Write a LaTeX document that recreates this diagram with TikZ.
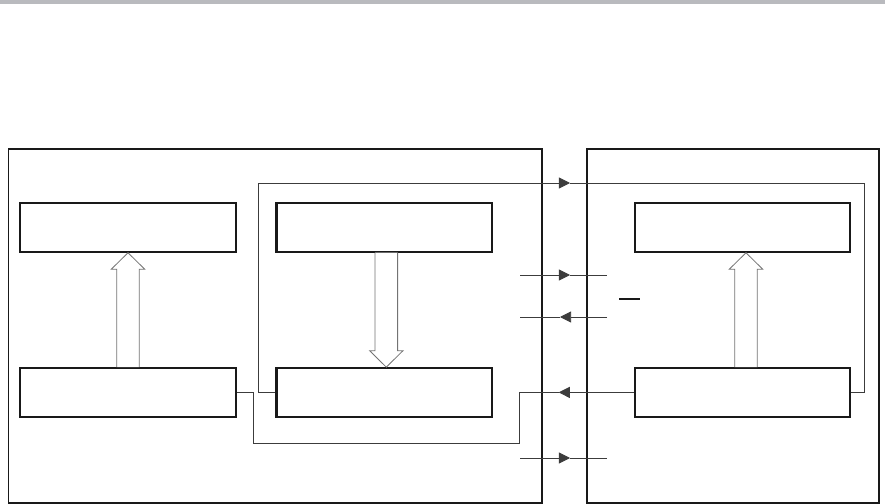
\documentclass[tikz,border=0pt]{standalone}
\usepackage{tikz}
\usetikzlibrary{positioning,arrows.meta,calc}
\definecolor{bandgray}{RGB}{185,186,190}
\definecolor{wiregray}{RGB}{60,60,60}
\newcommand{\fatarrow}[3]{%
  \draw[hollow] ($(#1)+(-11.3,0)$) -- ($(#2)+(-11.3,#3*16.5)$) -- ($(#2)+(-16.7,#3*16.5)$)
    -- (#2) -- ($(#2)+(16.7,#3*16.5)$) -- ($(#2)+(11.3,#3*16.5)$) -- ($(#1)+(11.3,0)$);}

\begin{document}
\begin{tikzpicture}[x=0.03cm,y=-0.03cm,
    block/.style={rectangle,draw=black!90,line width=1.8pt,minimum width=6.465cm,
                  minimum height=1.45cm,inner sep=0pt},
    frame/.style={rectangle,draw=black!90,line width=1.4pt,minimum height=10.62cm,inner sep=0pt},
    wire/.style={draw=wiregray,line width=0.75pt},
    tip/.style={wire,-{Triangle[length=9.5pt,width=9.5pt]}},
    hollow/.style={draw=black!55,line width=0.7pt,fill=white}
]
\useasboundingbox (0,0) rectangle (885,504);
\fill[bandgray] (0,0) rectangle (885,3.5);

\node[frame,minimum width=16.005cm] (hostframe) at (275.25,326) {};
\node[frame,minimum width=8.76cm]   (devframe)  at (733,326) {};

\node[block] (lefttop)  at (128,227.5) {};
\node[block] (leftbot)  at (128,392.4) {};
\node[block] (midtop)   at (384.3,227.5) {};
\node[block] (midbot)   at (384.3,392.4) {};
\node[block] (righttop) at (742.5,227.5) {};
\node[block] (rightbot) at (742.5,392.4) {};

% wide arrows
\coordinate (midshaft) at ($(midtop.south)+(2,0)$);
\coordinate (midhead)  at ($(midbot.north)+(2,0)$);
\coordinate (rightshaft) at ($(rightbot.north)+(3.5,0)$);
\coordinate (righthead)  at ($(righttop.south)+(3.5,0)$);
\fatarrow{leftbot.north}{lefttop.south}{1}
\fatarrow{midshaft}{midhead}{-1}
\fatarrow{rightshaft}{righthead}{1}

% loop over the top
\coordinate (looptip) at (570,183);
\draw[tip] (midbot.west) -- ++(-17,0) |- (looptip);
\draw[wire] (looptip) -| ($(rightbot.east)+(13,0)$) -- (rightbot.east);

% return under the blocks
\coordinate (backtip) at ($(rightbot.west)+(-75,0)$);
\coordinate (jog) at (519,443);
\draw[tip] (rightbot.west) -- (backtip);
\draw[wire] (backtip) -| (jog) -| ($(leftbot.east)+(17,0)$) -- (leftbot.east);

% short signals
\coordinate (sa_w) at (520,275); \coordinate (sa_t) at (570,275); \coordinate (sa_e) at (607,275);
\coordinate (sb_w) at (520,317); \coordinate (sb_t) at (560,317); \coordinate (sb_e) at (607,317);
\coordinate (sc_w) at (520,458); \coordinate (sc_t) at (570,458); \coordinate (sc_e) at (607,458);
\draw[tip] (sa_w) -- (sa_t); \draw[wire] (sa_t) -- (sa_e);
\draw[tip] (sb_e) -- (sb_t); \draw[wire] (sb_t) -- (sb_w);
\draw[tip] (sc_w) -- (sc_t); \draw[wire] (sc_t) -- (sc_e);

\draw[line width=1.4pt,black!90] (619,299) -- (640,299);
\end{tikzpicture}
\end{document}
